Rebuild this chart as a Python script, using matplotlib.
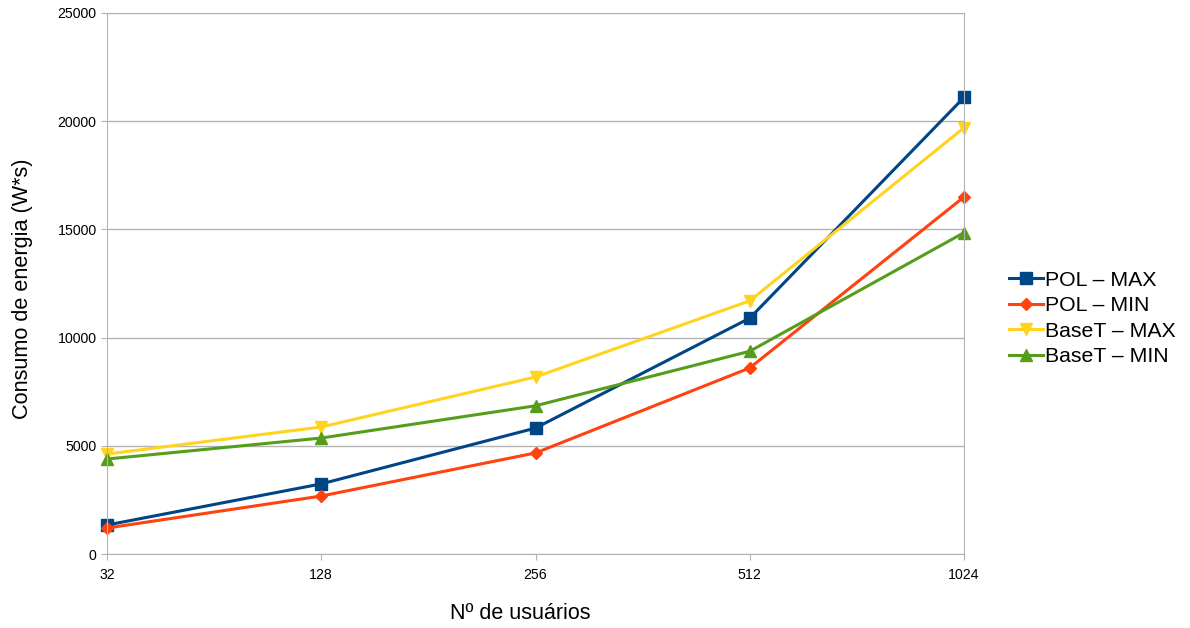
import numpy as np
import matplotlib
matplotlib.use("Agg")
import matplotlib.pyplot as plt

plt.rcParams['font.family'] = ['Liberation Sans', 'DejaVu Sans']

users = ["32", "128", "256", "512", "1024"]
pol_max = [1340, 3240, 5820, 10900, 21100]
pol_min = [1200, 2680, 4670, 8600, 16500]
baset_max = [4620, 5870, 8180, 11700, 19700]
baset_min = [4390, 5360, 6850, 9370, 14850]

fig = plt.figure(figsize=(11.9, 6.28), dpi=100)
ax = fig.add_axes([0.0899, 0.1178, 0.7202, 0.8615])

x = np.arange(len(users))
ax.plot(x, pol_max, color="#004586", lw=2.2, marker="s", ms=8, label="POL – MAX", clip_on=False)
ax.plot(x, pol_min, color="#ff420e", lw=2.2, marker="D", ms=6, label="POL – MIN", clip_on=False)
ax.plot(x, baset_max, color="#ffd320", lw=2.2, marker="v", ms=9, label="BaseT – MAX", clip_on=False)
ax.plot(x, baset_min, color="#579d1c", lw=2.2, marker="^", ms=9, label="BaseT – MIN", clip_on=False)

ax.set_xlim(0, len(users) - 1)
ax.set_ylim(0, 25000)
ax.set_xticks(x)
ax.set_xticklabels(users)
ax.set_yticks(np.arange(0, 25001, 5000))
ax.yaxis.grid(True, color="#b3b3b3", lw=1)
ax.set_axisbelow(True)
for s in ax.spines.values():
    s.set_color("#b3b3b3")
ax.tick_params(colors="#b3b3b3", labelcolor="black", labelsize=10.2, length=4)
ax.tick_params(axis="x", pad=6)

ax.set_xlabel("Nº de usuários", fontsize=15.5)
ax.xaxis.set_label_coords(0.482, -0.09)
ax.set_ylabel("Consumo de energia (W*s)", fontsize=15.6)
ax.yaxis.set_label_coords(-0.086, 0.49)

fig.legend(loc="center left", bbox_to_anchor=(0.832, 0.493), frameon=False,
           fontsize=15.3, handlelength=1.6, handletextpad=0.1, labelspacing=0.3)

fig.savefig("out.png", dpi=100)
